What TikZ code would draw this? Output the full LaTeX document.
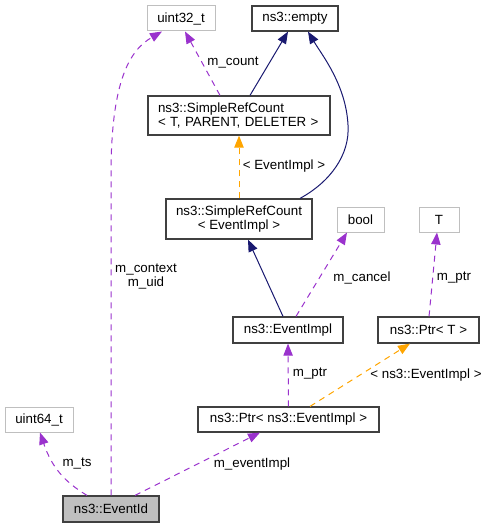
\documentclass[tikz,border=0pt]{standalone}
\usepackage{fontspec}
\setmainfont{Liberation Sans}
\usetikzlibrary{arrows.meta}
\definecolor{purp}{HTML}{9A32CD}
\definecolor{navy}{HTML}{191970}
\definecolor{orng}{HTML}{FFA500}
\definecolor{lgray}{HTML}{BFBFBF}
\definecolor{dgray}{HTML}{404040}
\begin{document}
\begin{tikzpicture}[x=0.75pt,y=-0.75pt,
  every node/.style={font=\fontsize{10}{10.5}\selectfont, inner sep=0pt},
  box/.style={draw=dgray, line width=0.9pt, fill=white, minimum height=18.75pt, align=center},
  ubox/.style={draw=lgray, line width=0.75pt, fill=white, minimum height=18.75pt},
  tip/.style={-{Triangle[length=9pt,width=7pt]}},
  member/.style={tip, draw=purp, line width=0.75pt, dash pattern=on 4.5pt off 3.75pt},
  inherit/.style={tip, draw=navy, line width=0.75pt},
  templ/.style={tip, draw=orng, line width=0.75pt, dash pattern=on 4.5pt off 3.75pt},
  lbl/.style={align=center}]
\useasboundingbox (0,0) rectangle (489,528);
% nodes
\node[ubox, minimum width=51pt] (u32) at (181,18.5) {uint32\_t};
\node[box, minimum width=64.5pt] (empty) at (295,18.5) {ns3::empty};
\node[box, minimum width=136.5pt, minimum height=29.25pt, text width=121.5pt, inner xsep=7.5pt, align=left] (srctpd) at (239,115.5) {ns3::SimpleRefCount\\{}< T, PARENT, DELETER >};
\node[box, minimum width=109.5pt, minimum height=30pt] (srce) at (239,219) {ns3::SimpleRefCount\\{}< EventImpl >};
\node[ubox, minimum width=35.25pt] (bool) at (360.5,219.5) {bool};
\node[ubox, minimum width=30pt] (T) at (439,219.5) {T};
\node[box, minimum width=82.5pt, minimum height=19.5pt] (eimpl) at (288,330) {ns3::EventImpl};
\node[box, minimum width=75.75pt, minimum height=19.5pt] (ptrt) at (428.5,330) {ns3::Ptr< T >};
\node[box, minimum width=135.75pt] (ptre) at (288.5,419.5) {ns3::Ptr< ns3::EventImpl >};
\node[ubox, minimum width=51pt] (u64) at (39,419.5) {uint64\_t};
\node[box, fill=lgray, minimum width=72pt, minimum height=19.5pt] (eid) at (111,509) {ns3::EventId};
% edges
\draw[member] (eid.north) -- (111,175) .. controls (111,80) and (130,50) .. ([xshift=-14.25pt]u32.south);
\node[lbl] (lctx) at (146,277) {m\_context\\m\_uid};
\draw[member] ([xshift=-14.25pt]srctpd.north) -- ([xshift=3pt]u32.south);
\node (lcount) at (233,63) {m\_count};
\draw[inherit] ([xshift=8.25pt]srctpd.north) -- ([xshift=-5.25pt]empty.south);
\draw[inherit] ([xshift=45.75pt]srce.north) .. controls (330,182) and (350,155) .. (348,125) .. controls (346,85) and (322,55) .. ([xshift=9.75pt]empty.south);
\draw[templ] (srce.north) -- (srctpd.south);
\node (lei) at (284,166) {< EventImpl >};
\draw[inherit] ([xshift=-3.75pt]eimpl.north) -- ([xshift=6.75pt]srce.south);
\draw[member] ([xshift=6pt]eimpl.north) -- ([xshift=-10.125pt]bool.south);
\node (lcancel) at (362,278) {m\_cancel};
\draw[member] ([xshift=0.4pt]ptrt.north) -- ([xshift=-1.5pt]T.south);
\node (lptr1) at (454,278) {m\_ptr};
\draw[member] (ptre.north) -- (eimpl.south);
\node (lptr2) at (310,374) {m\_ptr};
\draw[templ] ([xshift=16.125pt]ptre.north) -- ([xshift=-13.875pt]ptrt.south);
\node (lnsei) at (426,375) {< ns3::EventImpl >};
\draw[member] ([xshift=18pt]eid.north) -- ([xshift=-21.375pt]ptre.south);
\node (levimpl) at (252,464) {m\_eventImpl};
\draw[member] ([xshift=-18pt]eid.north) .. controls (65,482) and (52,468) .. ([xshift=0.75pt]u64.south);
\node (lts) at (77,464) {m\_ts};
\end{tikzpicture}
\end{document}
